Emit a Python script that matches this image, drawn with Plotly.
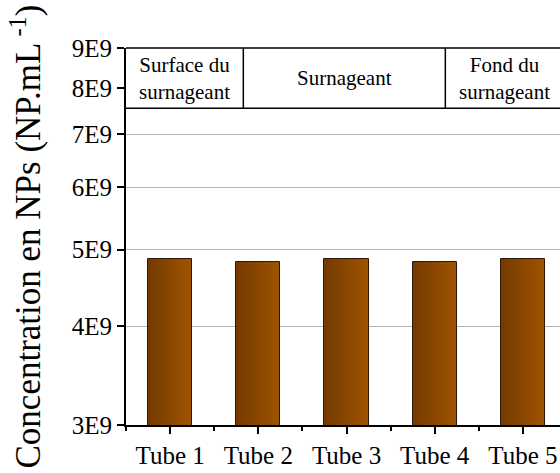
import numpy as np
import plotly.graph_objects as go

# Nanoparticle concentration measured in each tube
tubes = ["Tube 1", "Tube 2", "Tube 3", "Tube 4", "Tube 5"]
concentration = [4.87e9, 4.82e9, 4.87e9, 4.82e9, 4.87e9]

y_tick_values = [3e9, 4e9, 5e9, 6e9, 7e9, 8e9, 9e9]
y_tick_labels = ["3E9", "4E9", "5E9", "6E9", "7E9", "8E9", "9E9"]

# Sampling zones shown in the header band
zone_labels = ["Surface du<br>surnageant", "Surnageant", "Fond du<br>surnageant"]

FONT = "Liberation Serif, Times New Roman, serif"
Y_MIN, Y_MAX = 3e9, 9e9
X_MIN, X_MAX = -0.5, 4.42
BAR_W = 0.5
HEADER_BOTTOM = 7.55e9
ZONE_EDGES = [-0.5, 0.83, 3.12, 4.47]

x_pos = list(range(len(tubes)))


def y_paper(v):
    return (np.log10(v) - np.log10(Y_MIN)) / (np.log10(Y_MAX) - np.log10(Y_MIN))


fig = go.Figure()

# Horizontal brown gradient on each bar, built from overlapping slices
n_slices = 14
c_left = np.array([0x76, 0x3B, 0x00])
c_right = np.array([0x9E, 0x53, 0x00])
for k in range(n_slices):
    t = k / (n_slices - 1)
    c = (c_left + (c_right - c_left) * t).round().astype(int)
    step = BAR_W / n_slices
    fig.add_trace(go.Bar(
        x=x_pos, y=concentration,
        width=BAR_W - k * step, offset=-BAR_W / 2 + k * step,
        marker=dict(color=f"rgb({c[0]},{c[1]},{c[2]})", line=dict(width=0)),
        hoverinfo="skip", showlegend=False,
    ))

# Bar outlines
fig.add_trace(go.Bar(
    x=x_pos, y=concentration, width=BAR_W, offset=-BAR_W / 2,
    marker=dict(color="rgba(0,0,0,0)", line=dict(color="#2b1806", width=1)),
    showlegend=False,
))

# Header band with the zone names
hb = y_paper(HEADER_BOTTOM)
fig.add_shape(type="rect", xref="x", yref="paper",
              x0=ZONE_EDGES[0] - 0.03, x1=ZONE_EDGES[-1] + 0.5, y0=hb, y1=1,
              fillcolor="white", line=dict(color="black", width=1.5), layer="above")
for xe in ZONE_EDGES[1:-1]:
    fig.add_shape(type="line", xref="x", yref="paper", x0=xe, x1=xe, y0=hb, y1=1,
                  line=dict(color="black", width=1.5), layer="above")
for i, lab in enumerate(zone_labels):
    fig.add_annotation(
        x=(ZONE_EDGES[i] + ZONE_EDGES[i + 1]) / 2, y=(hb + 1) / 2,
        xref="x", yref="paper", text=lab, showarrow=False,
        font=dict(family=FONT, size=21, color="black"),
        xanchor="center", yanchor="middle",
    )

fig.update_layout(
    width=560, height=473,
    margin=dict(l=126, r=0, t=48, b=48),
    paper_bgcolor="white", plot_bgcolor="white",
    barmode="overlay", bargap=0,
    font=dict(family=FONT, color="black"),
)

fig.update_xaxes(
    range=[X_MIN, X_MAX],
    tickmode="array", tickvals=x_pos, ticktext=tubes,
    tickfont=dict(family=FONT, size=25, color="black"),
    ticks="outside", ticklen=7, tickwidth=1.5, tickcolor="black",
    minor=dict(ticks="outside", ticklen=4, tickwidth=1.5, tickcolor="black",
               tickmode="linear", tick0=0.5, dtick=1),
    showline=True, linecolor="black", linewidth=2,
    showgrid=False, zeroline=False,
)

fig.update_yaxes(
    type="log",
    range=[np.log10(Y_MIN), np.log10(Y_MAX)],
    tickmode="array", tickvals=y_tick_values, ticktext=y_tick_labels,
    tickfont=dict(family=FONT, size=25, color="black"),
    ticks="outside", ticklen=7, tickwidth=1.5, tickcolor="black",
    showline=True, linecolor="black", linewidth=2,
    showgrid=True, gridcolor="#b4b4b4", gridwidth=1,
    zeroline=False,
    title=dict(text="Concentration en NPs (NP.mL<sup> -1</sup>)",
               font=dict(family=FONT, size=35, color="black"), standoff=20),
)

fig.write_html("out.html")
